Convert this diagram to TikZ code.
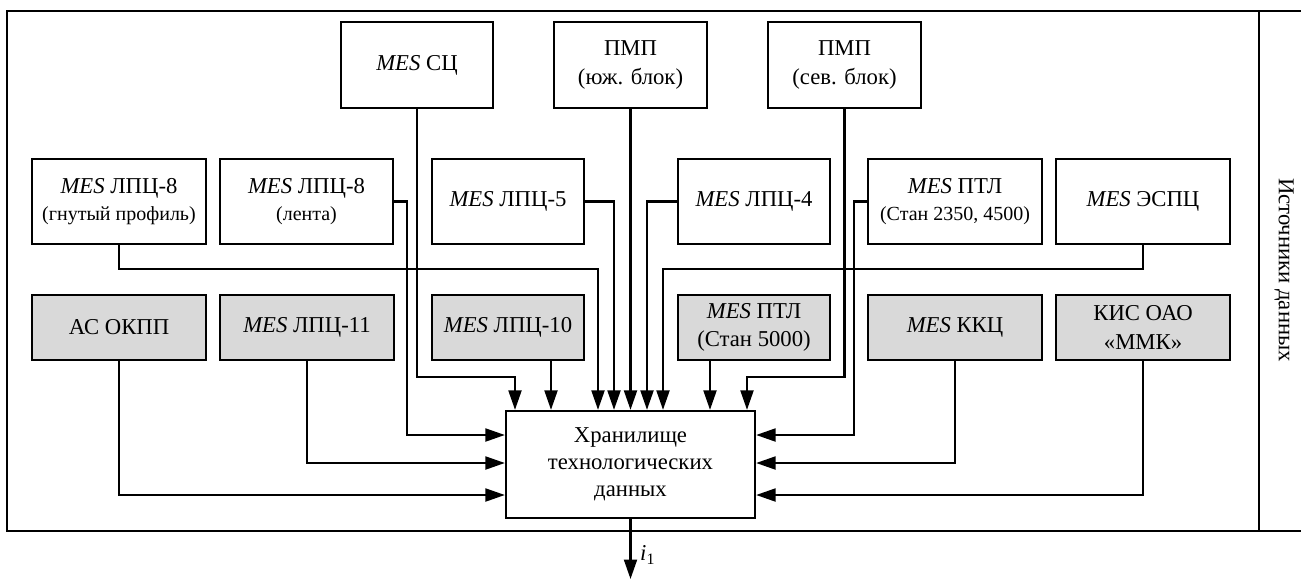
\documentclass[tikz,border=0pt]{standalone}
\usepackage{fontspec}
\setmainfont{Liberation Serif}
\usetikzlibrary{arrows.meta}
\definecolor{srcgray}{HTML}{D9D9D9}
\newcommand{\mes}{\textit{MES}}
\newcommand{\sub}[1]{{\fontsize{20}{23}\selectfont #1}}
\begin{document}
\begin{tikzpicture}[x=1pt,y=-1pt,
  font=\fontsize{22.7}{28.5}\selectfont,
  box/.style={draw, line width=2.3pt, inner sep=2pt, align=center, fill=white},
  wide/.style={box, minimum width=174pt},
  narrow/.style={box, minimum width=152pt},
  tall/.style={minimum height=85pt},
  short/.style={minimum height=65pt, fill=srcgray},
  link/.style={line width=2.1pt},
  arr/.style={link, -{Triangle[length=19.5pt,width=13pt]}},
  frame/.style={line width=2.3pt}
]
\useasboundingbox (0,0) rectangle (1301,579);

% outer frame with the side caption column
\coordinate (ftl) at (7,11);
\coordinate (fbl) at (7,531);
\coordinate (ftr) at (1303,11);
\coordinate (fbr) at (1303,531);
\coordinate (dtop) at (1259,11);
\coordinate (dbot) at (1259,531);
\draw[frame] (ftr) -- (ftl) -- (fbl) -- (fbr);
\draw[frame] (dtop) -- (dbot);
\node[rotate=-90] (cap) at (1284,270) {Источники данных};

% top row
\node[narrow, minimum height=86pt] (sc) at (417,65) {\mes{} СЦ};
\node[box, minimum width=153pt, minimum height=86pt] (pmpS) at (630.5,65) {ПМП\\(юж. блок)};
\node[box, minimum width=153pt, minimum height=86pt] (pmpN) at (844.5,65) {ПМП\\(сев. блок)};

% middle row
\node[wide, tall] (l8g) at (119,201.5) {\mes{} ЛПЦ-8\\[-1pt]\sub{(гнутый профиль)}};
\node[wide, tall, minimum width=173pt] (l8l) at (306.5,201.5) {\mes{} ЛПЦ-8\\[-1pt]\sub{(лента)}};
\node[narrow, tall] (l5) at (508,201.5) {\mes{} ЛПЦ-5};
\node[narrow, tall] (l4) at (754,201.5) {\mes{} ЛПЦ-4};
\node[wide, tall] (ptl1) at (955,201.5) {\mes{} ПТЛ\\[-1pt]\sub{(Стан 2350, 4500)}};
\node[wide, tall] (espc) at (1143,201.5) {\mes{} ЭСПЦ};

% bottom row
\node[wide, short] (okpp) at (119,327.5) {АС ОКПП};
\node[wide, short] (l11) at (307,327.5) {\mes{} ЛПЦ-11};
\node[narrow, short] (l10) at (508,327.5) {\mes{} ЛПЦ-10};
\node[narrow, short] (ptl5) at (754,327.5) {\mes{} ПТЛ\\(Стан 5000)};
\node[wide, short] (kkc) at (955,327.5) {\mes{} ККЦ};
\node[wide, short] (kis) at (1143,327.5) {КИС ОАО\\«ММК»};

% data warehouse
\node[box, minimum width=249pt, minimum height=107pt, font=\fontsize{22.7}{27}\selectfont] (hran) at (630.5,464.5)
  {Хранилище\\технологических\\данных};

% bends and entry points
\coordinate (b1) at (515,377);
\coordinate (x2) at (551,0);
\coordinate (b3) at (598,269);
\coordinate (x4) at (614,0);
\coordinate (x6) at (647,0);
\coordinate (b7) at (663,269);
\coordinate (x8) at (710,0);
\coordinate (b9) at (747,377);
\coordinate (b10) at (407,435);
\coordinate (y11) at (0,463);
\coordinate (y12) at (0,495);
\coordinate (b13) at (854,435);
\coordinate (out) at (630.5,579);

% inputs from above
\draw[arr] (sc.south) |- (b1) -- (b1 |- hran.north);
\draw[arr] (x2 |- l10.south) -- (x2 |- hran.north);
\draw[arr] (l8g.south) |- (b3) -- (b3 |- hran.north);
\draw[arr] (l5.east) -| (x4 |- hran.north);
\draw[arr] (pmpS.south) -- (hran.north);
\draw[arr] (l4.west) -| (x6 |- hran.north);
\draw[arr] (espc.south) |- (b7) -- (b7 |- hran.north);
\draw[arr] (x8 |- ptl5.south) -- (x8 |- hran.north);
\draw[arr] (pmpN.south) |- (b9) -- (b9 |- hran.north);

% inputs from the left
\draw[arr] (l8l.east) -| (b10) -- (b10 -| hran.west);
\draw[arr] (l11.south) |- (y11 -| hran.west);
\draw[arr] (okpp.south) |- (y12 -| hran.west);

% inputs from the right
\draw[arr] (ptl1.west) -| (b13) -- (b13 -| hran.east);
\draw[arr] (kkc.south) |- (y11 -| hran.east);
\draw[arr] (kis.south) |- (y12 -| hran.east);

% output
\draw[arr] (hran.south) -- (out);
\node[anchor=west, inner sep=0pt] (i1) at (640,555) {\textit{i}\textsubscript{1}};
\end{tikzpicture}
\end{document}
